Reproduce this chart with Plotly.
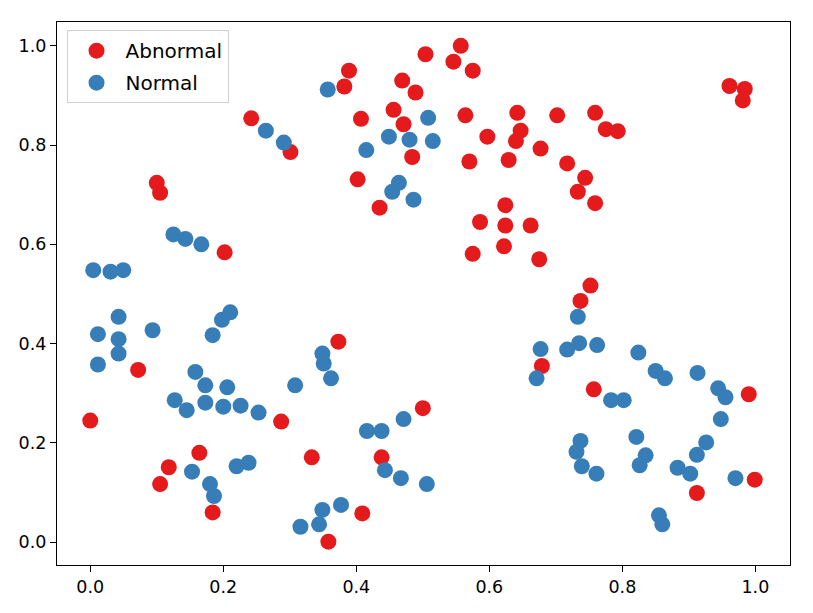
import plotly.graph_objects as go

# Abnormal (red) points
abn_x = [0.242, 0.301, 0.100, 0.105, 0.557, 0.504, 0.546, 0.575, 0.389, 0.382,
         0.469, 0.489, 0.456, 0.407, 0.471, 0.564, 0.642, 0.647, 0.640, 0.597,
         0.677, 0.484, 0.570, 0.629, 0.402, 0.435, 0.624, 0.586, 0.624, 0.662,
         0.622, 0.575, 0.675, 0.373, 0.961, 0.984, 0.981, 0.702, 0.759, 0.775,
         0.793, 0.717, 0.744, 0.733, 0.759, 0.752, 0.737, 0.679, 0.757, 0.990,
         0.999, 0.912, 0.202, 0.072, 0.287, 0.000, 0.164, 0.118, 0.105, 0.184,
         0.500, 0.333, 0.438, 0.409, 0.358]
abn_y = [0.854, 0.786, 0.724, 0.704, 1.000, 0.983, 0.968, 0.950, 0.950, 0.918,
         0.930, 0.906, 0.871, 0.853, 0.842, 0.860, 0.865, 0.829, 0.808, 0.817,
         0.793, 0.776, 0.767, 0.770, 0.731, 0.674, 0.679, 0.645, 0.638, 0.638,
         0.596, 0.581, 0.570, 0.404, 0.919, 0.913, 0.890, 0.860, 0.865, 0.832,
         0.828, 0.763, 0.734, 0.706, 0.683, 0.517, 0.486, 0.355, 0.308, 0.298,
         0.126, 0.099, 0.584, 0.347, 0.243, 0.245, 0.180, 0.151, 0.117, 0.060,
         0.270, 0.171, 0.171, 0.058, 0.001]

# Normal (blue) points
nor_x = [0.264, 0.291, 0.357, 0.508, 0.449, 0.480, 0.515, 0.415, 0.464, 0.454,
         0.486, 0.349, 0.351, 0.362, 0.733, 0.677, 0.717, 0.735, 0.762, 0.824,
         0.671, 0.850, 0.864, 0.913, 0.783, 0.802, 0.944, 0.955, 0.948, 0.821,
         0.737, 0.731, 0.739, 0.761, 0.835, 0.826, 0.926, 0.912, 0.883, 0.902,
         0.970, 0.855, 0.860, 0.125, 0.143, 0.167, 0.0045, 0.0305, 0.0496, 0.2105,
         0.198, 0.184, 0.0426, 0.0115, 0.0426, 0.0937, 0.0426, 0.0115, 0.158, 0.173,
         0.206, 0.308, 0.127, 0.145, 0.173, 0.200, 0.226, 0.253, 0.153, 0.220,
         0.238, 0.180, 0.186, 0.471, 0.416, 0.438, 0.443, 0.467, 0.506, 0.377,
         0.349, 0.344, 0.316]
nor_y = [0.829, 0.805, 0.912, 0.855, 0.817, 0.811, 0.808, 0.790, 0.724, 0.706,
         0.690, 0.380, 0.360, 0.330, 0.454, 0.389, 0.388, 0.401, 0.397, 0.382,
         0.330, 0.345, 0.330, 0.341, 0.286, 0.286, 0.310, 0.292, 0.248, 0.212,
         0.204, 0.182, 0.153, 0.138, 0.175, 0.155, 0.201, 0.176, 0.150, 0.138,
         0.129, 0.054, 0.036, 0.620, 0.611, 0.600, 0.548, 0.545, 0.548, 0.463,
         0.448, 0.417, 0.454, 0.419, 0.409, 0.427, 0.380, 0.358, 0.343, 0.316,
         0.312, 0.316, 0.286, 0.266, 0.281, 0.273, 0.275, 0.261, 0.142, 0.153,
         0.160, 0.117, 0.093, 0.248, 0.224, 0.224, 0.145, 0.129, 0.117, 0.075,
         0.065, 0.036, 0.031]

tick_vals = [0.0, 0.2, 0.4, 0.6, 0.8, 1.0]
tick_text = ["0.0", "0.2", "0.4", "0.6", "0.8", "1.0"]

RED = "#e41a1c"
BLUE = "#377eb8"
FONT = "DejaVu Sans"

fig = go.Figure()
fig.add_trace(go.Scatter(x=abn_x, y=abn_y, mode="markers", name="Abnormal",
                         legendgroup="a",
                         marker=dict(color=RED, size=16, line=dict(width=0))))
fig.add_trace(go.Scatter(x=nor_x, y=nor_y, mode="markers", name="Normal",
                         legendgroup="n",
                         marker=dict(color=BLUE, size=16, line=dict(width=0))))

axis_common = dict(
    tickmode="array", tickvals=tick_vals, ticktext=tick_text,
    showgrid=False, zeroline=False,
    showline=True, linecolor="black", linewidth=1.3, mirror=True,
    ticks="outside", ticklen=6, tickwidth=1.3, tickcolor="black",
    tickfont=dict(family=FONT, size=17.5, color="black"),
)

fig.update_layout(
    width=805, height=605,
    margin=dict(l=49, r=23, t=14, b=48),
    paper_bgcolor="white", plot_bgcolor="white",
    font=dict(family=FONT, size=17.5, color="black"),
    xaxis=dict(range=[-0.05, 1.052], **axis_common),
    yaxis=dict(range=[-0.046, 1.048], **axis_common),
    showlegend=True,
    legend=dict(x=0.013, y=0.985, xanchor="left", yanchor="top",
                bgcolor="rgba(255,255,255,0.8)", bordercolor="#d0d0d0",
                borderwidth=1, tracegroupgap=3, itemwidth=48,
                font=dict(family=FONT, size=20, color="black")),
)

fig.write_html("out.html")
